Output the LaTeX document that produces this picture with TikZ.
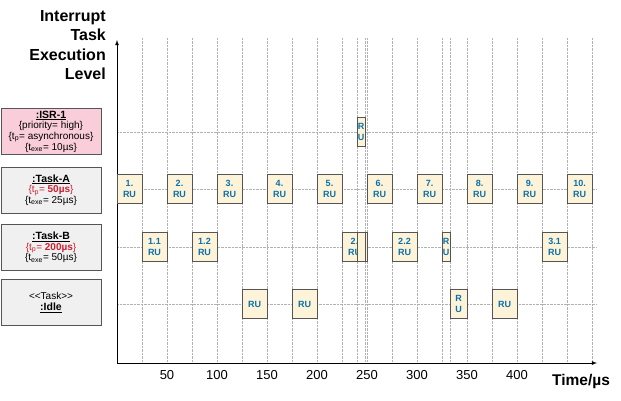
\documentclass[tikz,border=0pt]{standalone}
\usepackage{fontspec}
\setmainfont{Liberation Sans}
\usetikzlibrary{arrows}
\definecolor{rufill}{RGB}{252,243,216}
\definecolor{rublue}{RGB}{12,112,172}
\definecolor{boxline}{RGB}{85,85,85}
\definecolor{isrpink}{RGB}{249,206,218}
\definecolor{taskgray}{RGB}{240,240,240}
\definecolor{tpred}{RGB}{208,32,48}
\begin{document}
\begin{tikzpicture}[x=1pt,y=1pt,
  ru/.style={draw=boxline,fill=rufill,semithick,minimum width=25pt,minimum height=29pt,inner sep=0pt,align=center,text=rublue,font=\fontsize{9}{10.5}\selectfont\bfseries},
  thin ru/.style={ru,minimum width=8pt},
  uml/.style={draw=boxline,semithick,minimum width=100pt,minimum height=46pt,inner sep=1pt,align=center,font=\fontsize{10}{10.7}\selectfont},
  grid line/.style={gray!60,densely dotted,thin},
  tick/.style={font=\fontsize{13}{14}\selectfont}]
  \useasboundingbox (-117,-37) rectangle (504,363);
  % grid
  \foreach \t in {25,50,...,475,240,248,333} \draw[grid line] (\t,0) -- (\t,325);
  \foreach \y in {59,116,174,231} \draw[grid line] (0,\y) -- (480,\y);
  % axes
  \coordinate (o) at (0,0);
  \coordinate (ytop) at (0,323);
  \coordinate (xend) at (480,0);
  \draw[-latex,thick] (o) -- (ytop);
  \draw[-latex,thick] (o) -- (xend);
  \foreach \t in {50,100,...,400} \node[tick] (l\t) at (\t,-12) {\t};
  \node[font=\fontsize{15.5}{16}\selectfont\bfseries] (xlabel) at (464,-18) {Time/µs};
  \node[anchor=east,align=right,inner sep=0pt,font=\fontsize{16}{19.5}\selectfont\bfseries] (ylabel) at (-11,318) {Interrupt\\Task\\Execution\\Level};
  % tasks
  \node[uml,fill=isrpink] (isr) at (-66,231.5) {{\fontsize{10.5}{10.7}\selectfont\bfseries\underline{:ISR-1}}\\\{priority= high\}\\\{t\textsubscript{p}= asynchronous\}\\\{t\textsubscript{exe}= 10µs\}};
  \node[uml,fill=taskgray] (taskA) at (-66,173) {{\fontsize{10.5}{10.7}\selectfont\bfseries\underline{:Task-A}}\\{\color{tpred}\{t\textsubscript{p}= \textbf{50µs}\}}\\\{t\textsubscript{exe}= 25µs\}};
  \node[uml,fill=taskgray] (taskB) at (-66,115.5) {{\fontsize{10.5}{10.7}\selectfont\bfseries\underline{:Task-B}}\\{\color{tpred}\{t\textsubscript{p}= \textbf{200µs}\}}\\\{t\textsubscript{exe}= 50µs\}};
  \node[uml,fill=taskgray] (idle) at (-66,60.5) {<{}<Task>{}>\\{\fontsize{10.5}{10.7}\selectfont\bfseries\underline{:Idle}}};
  % run units
  \foreach \n in {1,...,10} \node[ru] (a\n) at ({(\n-1)*50+12.5},174) {\n.\\RU};
  \node[ru] (b11) at (37.5,116) {1.1\\RU};
  \node[ru] (b12) at (87.5,116) {1.2\\RU};
  \node[ru] (b2) at (237.5,116) {2.\\RU};
  \node[thin ru] (b2s) at (244,116) {};
  \node[ru,minimum width=2pt] (b2e) at (249,116) {};
  \node[ru] (b22) at (287.5,116) {2.2\\RU};
  \node[thin ru] (b23) at (329,116) {R\\U};
  \node[ru] (b31) at (437.5,116) {3.1\\RU};
  \node[thin ru] (isr1) at (244,231) {R\\U};
  \node[ru] (i1) at (137.5,59) {RU};
  \node[ru] (i2) at (187.5,59) {RU};
  \node[ru,minimum width=17pt] (i3) at (341.5,59) {R\\U};
  \node[ru] (i4) at (387.5,59) {RU};
\end{tikzpicture}
\end{document}
